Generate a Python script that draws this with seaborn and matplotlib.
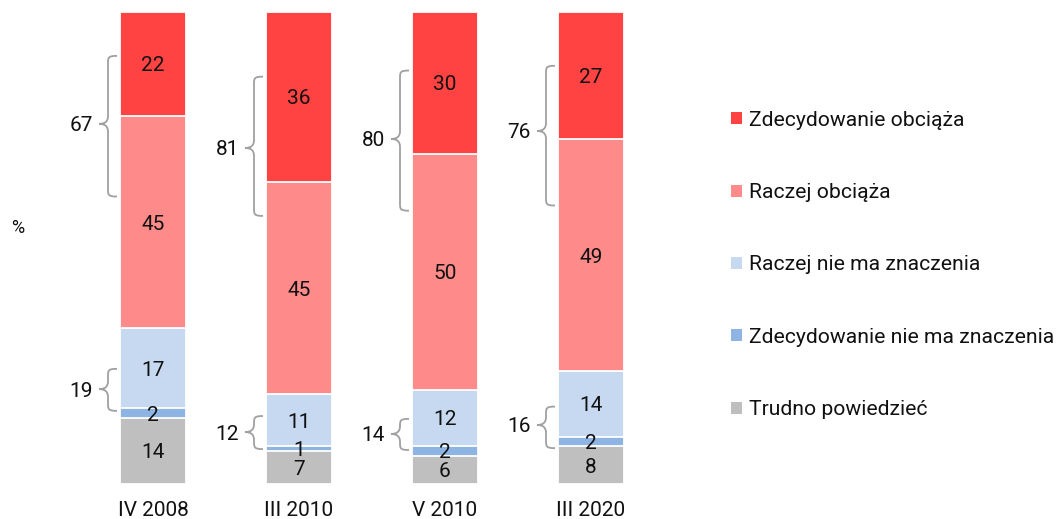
import matplotlib
matplotlib.use("Agg")
import matplotlib.pyplot as plt
from matplotlib.path import Path
from matplotlib.patches import PathPatch, Patch
import numpy as np
import pandas as pd
import seaborn as sns

# ---- data ----
categories = ["IV 2008", "III 2010", "V 2010", "III 2020"]
series_names = ["Trudno powiedzieć", "Zdecydowanie nie ma znaczenia",
                "Raczej nie ma znaczenia", "Raczej obciąża", "Zdecydowanie obciąża"]
trudno = [14, 7, 6, 8]
zdec_nie = [2, 1, 2, 2]
raczej_nie = [17, 11, 12, 14]
raczej_obc = [45, 45, 50, 49]
zdec_obc = [22, 36, 30, 27]
sum_obciaza = [67, 81, 80, 76]
sum_nie_ma = [19, 12, 14, 16]

colors = ["#bfbfbf", "#8db4e2", "#c6d9f0", "#ff8a8a", "#ff4343"]

# brace layout (value-axis extents of the decorative braces: top, nub, bottom)
brace_top = [(90.7, 76.3, 60.9), (86.3, 71.2, 56.8), (87.6, 73.1, 57.9), (88.6, 74.8, 59.0)]
brace_bot = [(24.4, 20.1, 15.5), (14.4, 11.0, 7.4), (13.8, 10.6, 7.2), (16.4, 12.5, 7.6)]

sns.set_theme(style="white")
plt.rcParams["font.family"] = ["Roboto", "DejaVu Sans"]

W, H = 1058, 519
fig = plt.figure(figsize=(W / 100, H / 100), dpi=100)
ax_left_px, ax_right_px = 0, 700
bar_top_px, bar_bot_px = 12, 484
ax = fig.add_axes([ax_left_px / W, (H - bar_bot_px) / H,
                   (ax_right_px - ax_left_px) / W, (bar_bot_px - bar_top_px) / H])

series = [trudno, zdec_nie, raczej_nie, raczej_obc, zdec_obc]
cum = np.cumsum(np.array(series, dtype=float), axis=0)

# draw cumulative bars from tallest to shortest (stacked look)
for k in range(len(series) - 1, -1, -1):
    df = pd.DataFrame({"cat": categories, "val": cum[k]})
    sns.barplot(data=df, x="cat", y="val", color=colors[k], saturation=1,
                width=0.452, edgecolor="white", linewidth=1.3, ax=ax, zorder=2)

# value labels
for k, vals in enumerate(series):
    for i, v in enumerate(vals):
        ax.text(i, cum[k][i] - v / 2, f"{v}", ha="center", va="center_baseline",
                fontsize=15, color="#111111", zorder=5)

px_x = 1.0 / 146.0   # data units per pixel (x)
centre0_px = 153
ax.set_xlim((ax_left_px - centre0_px) * px_x, (ax_right_px - centre0_px) * px_x)
ax.set_ylim(0, 100)
px_y = 100.0 / (bar_bot_px - bar_top_px)


def draw_brace(ax, xc, top, mid, bot, label):
    xt = xc - 36 * px_x
    xv = xc - 45 * px_x
    xn = xc - 54 * px_x
    ry = 8 * px_y
    verts = [
        (xt, top),
        (xv, top), (xv, top - ry * 0.2), (xv, top - ry),
        (xv, mid + ry),
        (xv, mid + ry * 0.3), (xv - 3 * px_x, mid), (xn, mid),
        (xv - 3 * px_x, mid), (xv, mid - ry * 0.3), (xv, mid - ry),
        (xv, bot + ry),
        (xv, bot + ry * 0.2), (xv, bot), (xt, bot),
    ]
    codes = [Path.MOVETO,
             Path.CURVE4, Path.CURVE4, Path.CURVE4,
             Path.LINETO,
             Path.CURVE4, Path.CURVE4, Path.CURVE4,
             Path.CURVE4, Path.CURVE4, Path.CURVE4,
             Path.LINETO,
             Path.CURVE4, Path.CURVE4, Path.CURVE4]
    ax.add_patch(PathPatch(Path(verts, codes), facecolor="none",
                           edgecolor="#a0a0a0", linewidth=1.3, zorder=4,
                           clip_on=False))
    ax.text(xn - 6 * px_x, mid, label, ha="right", va="center_baseline",
            fontsize=15, color="#111111")


for i in range(len(categories)):
    t, m, b = brace_top[i]
    draw_brace(ax, i, t, m, b, str(sum_obciaza[i]))
    t, m, b = brace_bot[i]
    draw_brace(ax, i, t, m, b, str(sum_nie_ma[i]))

sns.despine(ax=ax, left=True, bottom=True)
ax.set_yticks([])
ax.set_xlabel("")
ax.set_ylabel("")
ax.tick_params(axis="x", length=0, pad=12, labelsize=15, colors="#111111")

fig.text(18 / W, 1 - 228 / H, "%", ha="center", va="center", fontsize=13,
         color="#111111")

handles = [Patch(facecolor=colors[k], edgecolor="none") for k in range(len(series) - 1, -1, -1)]
labels = [series_names[k] for k in range(len(series) - 1, -1, -1)]
ax.legend(handles, labels, loc="center left",
          bbox_to_anchor=(731 / W, 1 - 265 / H), bbox_transform=fig.transFigure,
          frameon=False, handlelength=0.5, handleheight=0.5,
          prop={"size": 15.2},
          handletextpad=0.35, labelspacing=2.53, borderpad=0, borderaxespad=0,
          labelcolor="#111111")

fig.savefig("out.png", dpi=100)
